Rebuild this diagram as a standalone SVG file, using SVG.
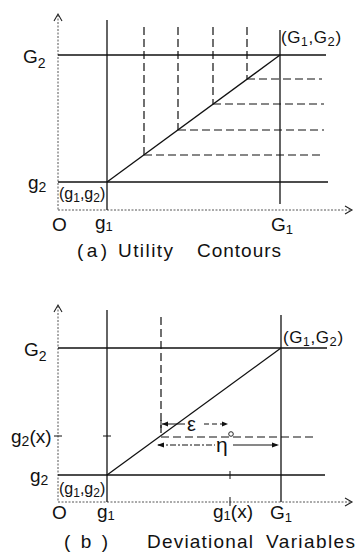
<svg xmlns="http://www.w3.org/2000/svg" width="356" height="559" viewBox="0 0 356 559">
<style>
.ax{stroke:#555;stroke-width:1;stroke-dasharray:2 1.5;fill:none}
.ah{stroke:#222;stroke-width:1.1;fill:none}
.sl{stroke:#111;stroke-width:1.3;fill:none}
.dl{stroke:#111;stroke-width:1.2;fill:none;stroke-dasharray:8 4}
.tk{stroke:#111;stroke-width:1;fill:none}
text{font-family:"Liberation Sans",Arial,sans-serif;fill:#111}
.L{font-size:19px}
.S{font-size:16px}
.ar{fill:#111;stroke:none}
</style>
<rect width="356" height="559" fill="#fff"/>

<!-- Panel (a) -->
<g id="panel-a-axes">
  <line class="ax" x1="58" y1="15" x2="58" y2="210"/>
  <polyline class="ah" points="54,21 58,14 62,21"/>
  <line class="ax" x1="58" y1="210" x2="352" y2="210"/>
  <polyline class="ah" points="345,206 352,210 345,214"/>
</g>
<g id="panel-a-connectors">
  <line class="sl" x1="107" y1="20" x2="107" y2="210"/>
  <line class="sl" x1="280" y1="30" x2="280" y2="204"/>
  <line class="sl" x1="58" y1="55" x2="326" y2="55"/>
  <line class="sl" x1="58" y1="182" x2="328" y2="182"/>
  <line class="sl" x1="107" y1="182" x2="280" y2="55"/>
  <line class="dl" x1="144" y1="27" x2="144" y2="155"/>
  <line class="dl" x1="178" y1="27" x2="178" y2="130"/>
  <line class="dl" x1="213" y1="27" x2="213" y2="104"/>
  <line class="dl" x1="247" y1="27" x2="247" y2="79"/>
  <line class="dl" x1="144" y1="155" x2="324" y2="155"/>
  <line class="dl" x1="178" y1="130" x2="324" y2="130"/>
  <line class="dl" x1="213" y1="104" x2="324" y2="104"/>
  <line class="dl" x1="247" y1="79" x2="322" y2="79"/>
</g>
<g id="panel-a-labels">
  <text class="L" x="23" y="63">G<tspan font-size="14" dy="5">2</tspan></text>
  <text x="281" y="43" font-size="17" letter-spacing="0.6">(G<tspan font-size="12" dy="3">1</tspan><tspan dy="-3">,G</tspan><tspan font-size="13" dy="3">2</tspan><tspan dy="-3">)</tspan></text>
  <text class="L" x="28" y="189">g<tspan font-size="14" dy="3">2</tspan></text>
  <text class="S" x="59" y="199">(g<tspan font-size="12" dy="3">1</tspan><tspan dy="-3">,g</tspan><tspan font-size="12" dy="3">2</tspan><tspan dy="-3">)</tspan></text>
  <text class="L" x="52" y="231">O</text>
  <text class="L" x="95" y="229">g<tspan font-size="13" dy="2">1</tspan></text>
  <text class="L" x="271" y="231">G<tspan font-size="13" dy="3">1</tspan></text>
  <text class="L" x="77" y="257" textLength="30" lengthAdjust="spacing">(a)</text>
  <text class="L" x="118" y="257" textLength="55" lengthAdjust="spacing">Utility</text>
  <text class="L" x="197" y="257" textLength="84" lengthAdjust="spacing">Contours</text>
</g>

<!-- Panel (b) -->
<g id="panel-b-axes">
  <line class="ax" x1="58" y1="306" x2="58" y2="502"/>
  <polyline class="ah" points="54,312 58,305 62,312"/>
  <line class="ax" x1="58" y1="502" x2="352" y2="502"/>
  <polyline class="ah" points="345,498 352,502 345,506"/>
</g>
<g id="panel-b-connectors">
  <line class="sl" x1="107" y1="310" x2="107" y2="502"/>
  <line class="sl" x1="281" y1="315" x2="281" y2="502"/>
  <line class="sl" x1="58" y1="348" x2="327" y2="348"/>
  <line class="sl" x1="58" y1="475" x2="325" y2="475"/>
  <line class="sl" x1="107" y1="475" x2="281" y2="348"/>
  <line class="dl" x1="161" y1="317" x2="161" y2="437"/>
  <line class="dl" x1="161" y1="437" x2="314" y2="437"/>
  <line class="tk" x1="54" y1="436" x2="62" y2="436"/>
  <line class="tk" x1="103" y1="436" x2="111" y2="436"/>
  <line class="tk" x1="230" y1="471" x2="230" y2="479"/>
  <line class="tk" x1="230" y1="497" x2="230" y2="506"/>
  <circle cx="231" cy="434" r="2.3" fill="#fff" stroke="#111" stroke-width="0.9"/>
  <!-- epsilon arrow -->
  <line class="tk" x1="161" y1="420" x2="161" y2="428"/>
  <line class="tk" x1="162" y1="424" x2="185" y2="424"/>
  <line class="tk" x1="204" y1="424" x2="226" y2="424" stroke-dasharray="5 3"/>
  <polygon class="ar" points="162,424 168,421.5 168,426.5"/>
  <polygon class="ar" points="228,424 222,421.5 222,426.5"/>
  <!-- eta arrow -->
  <line class="tk" x1="158" y1="445" x2="215" y2="445" stroke-dasharray="6 2 2 2"/>
  <line class="tk" x1="233" y1="445" x2="277" y2="445"/>
  <polygon class="ar" points="157,445 164,442.5 164,447.5"/>
  <polygon class="ar" points="279,445 272,442.5 272,447.5"/>
</g>
<g id="panel-b-labels">
  <text class="L" x="24" y="356">G<tspan font-size="14" dy="5">2</tspan></text>
  <text x="283" y="343" font-size="17" letter-spacing="0.6">(G<tspan font-size="12" dy="3">1</tspan><tspan dy="-3">,G</tspan><tspan font-size="13" dy="3">2</tspan><tspan dy="-3">)</tspan></text>
  <text class="L" x="11" y="443">g<tspan font-size="14" dy="3">2</tspan><tspan dy="-3">(x)</tspan></text>
  <text class="L" x="30" y="482">g<tspan font-size="14" dy="3">2</tspan></text>
  <text class="S" x="59" y="494">(g<tspan font-size="12" dy="3">1</tspan><tspan dy="-3">,g</tspan><tspan font-size="12" dy="3">2</tspan><tspan dy="-3">)</tspan></text>
  <text x="187" y="431" font-size="20">ε</text>
  <text x="216" y="452" font-size="21">η</text>
  <text class="L" x="52" y="519">O</text>
  <text class="L" x="97" y="518">g<tspan font-size="13" dy="2">1</tspan></text>
  <text class="L" x="213" y="518">g<tspan font-size="13" dy="2">1</tspan><tspan dy="-2">(x)</tspan></text>
  <text class="L" x="270" y="519">G<tspan font-size="13" dy="3">1</tspan></text>
  <text class="L" x="64" y="548" textLength="44" lengthAdjust="spacing">( b )</text>
  <text class="L" x="147" y="548" textLength="106" lengthAdjust="spacing">Deviational</text>
  <text class="L" x="266" y="548" textLength="89" lengthAdjust="spacing">Variables</text>
</g>
</svg>
